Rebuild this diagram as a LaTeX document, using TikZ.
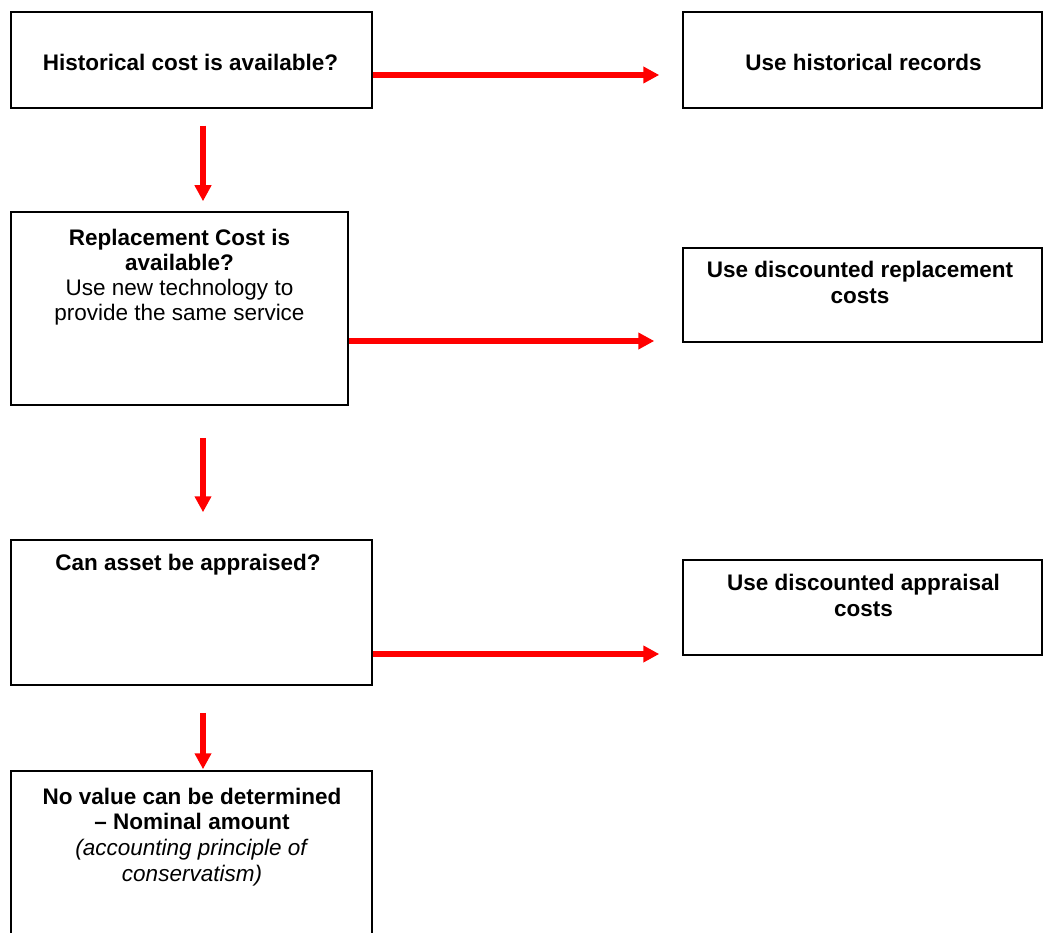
\documentclass[tikz,border=0pt]{standalone}
\usepackage{fontspec}
\setmainfont{Liberation Sans}
\usetikzlibrary{arrows.meta}
\tikzset{
  box/.style={draw=black, line width=1.5pt, rectangle, inner sep=0pt, fill=none},
  txt/.style={anchor=base, inner sep=0pt, outer sep=0pt},
  arr/.style={draw=red, line width=5.5pt, -{Triangle[length=16pt,width=16pt]}},
}
\newcommand{\bt}[2]{\parbox[t]{420pt}{\centering\fontsize{22.5}{#1}\selectfont #2}}
\begin{document}
\begin{tikzpicture}[x=1pt,y=-1pt]
\useasboundingbox (0,0) rectangle (1043,933);
\fill[white] (0,0) rectangle (1043,933);
% boxes
\node[box, minimum width=361pt, minimum height=96pt] (b1) at (191.5,60) {};
\node[box, minimum width=359pt, minimum height=96pt] (b2) at (862.5,60) {};
\node[box, minimum width=337pt, minimum height=193pt] (b3) at (179.5,308.5) {};
\node[box, minimum width=359pt, minimum height=94pt] (b4) at (862.5,295) {};
\node[box, minimum width=361pt, minimum height=145pt] (b5) at (191.5,612.5) {};
\node[box, minimum width=359pt, minimum height=95pt] (b6) at (862.5,607.5) {};
\node[box, minimum width=361pt, minimum height=174pt] (b7) at (191.5,858) {};
% texts
\node[txt] (t1) at (190.5,71) {\bt{26}{\bfseries Historical cost is available?}};
\node[txt] (t2) at (863.5,71) {\bt{26}{\bfseries Use historical records}};
\node[txt] (t3) at (179.5,245) {\bt{25}{\textbf{Replacement Cost is}\\ \textbf{available?}\\ Use new technology to\\ provide the same service}};
\node[txt] (t4) at (860,277) {\bt{26}{\bfseries Use discounted replacement\\ costs}};
\node[txt] (t5) at (188,570) {\bt{26}{\bfseries Can asset be appraised?}};
\node[txt] (t6) at (863.5,590) {\bt{26}{\bfseries Use discounted appraisal\\ costs}};
\node[txt] (t7) at (192,804) {\bt{25.7}{\textbf{No value can be determined}\\ \textbf{– Nominal amount}\\ \textit{(accounting principle of}\\ \textit{conservatism)}}};
% horizontal connectors
\coordinate (h1) at ([yshift=-15pt]b1.east);
\coordinate (h2) at ([yshift=-32.5pt]b3.east);
\coordinate (h3) at ([yshift=-41.5pt]b5.east);
\draw[arr, shorten >=23pt] (h1) -- (h1 -| b2.west);
\draw[arr, shorten >=28pt] (h2) -- (h2 -| b4.west);
\draw[arr, shorten >=23pt] (h3) -- (h3 -| b6.west);
% vertical connectors
\coordinate (v1) at ([xshift=11.5pt]b1.south);
\coordinate (v2) at ([xshift=23.5pt]b3.south);
\coordinate (v3) at ([xshift=11.5pt]b5.south);
\draw[arr, shorten <=17pt, shorten >=10pt] (v1) -- (v1 |- b3.north);
\draw[arr, shorten <=32pt, shorten >=27pt] (v2) -- (v2 |- b5.north);
\draw[arr, shorten <=27pt, shorten >=1pt] (v3) -- (v3 |- b7.north);
\end{tikzpicture}
\end{document}
